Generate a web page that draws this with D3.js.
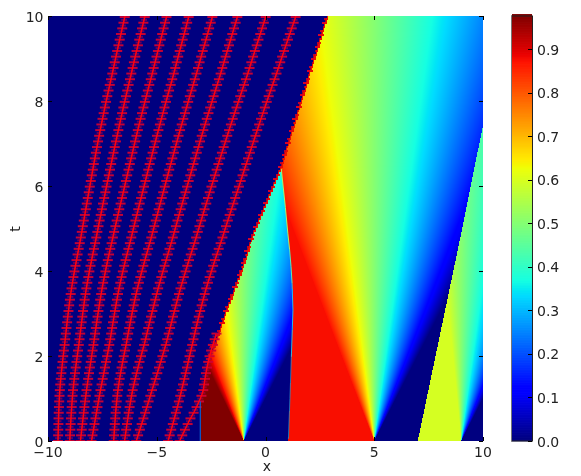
<!DOCTYPE html>
<html><head><meta charset="utf-8">
<script src="https://cdn.jsdelivr.net/npm/d3@7"></script>
<style>
html,body{margin:0;padding:0;background:#fff;width:581px;height:476px;overflow:hidden}
#field{position:absolute;left:48px;top:16px;filter:blur(0.35px)}
svg{position:absolute;left:0;top:0}
text{font-family:"DejaVu Sans",sans-serif;font-size:14px;fill:#222}
</style></head><body>
<canvas id="field" width="435" height="425"></canvas>
<svg id="chart" width="581" height="476"></svg>
<script>
// ---- values ----
const xTicks=[-10,-5,0,5,10];
const tTicks=[0,2,4,6,8,10];
const cbTicks=[0,0.1,0.2,0.3,0.4,0.5,0.6,0.7,0.8,0.9];
const valueMax=0.977;
// soliton trajectories: x position at each sample time
const lineTimes=[0,1.2,2.3,3.55,4.73,6.02,7.32,8.61,10];
const line1=[-9.54,-9.49,-9.23,-8.96,-8.51,-8.07,-7.61,-7.07,-6.46];
const line2=[-9.0,-8.88,-8.57,-8.28,-7.81,-7.30,-6.77,-6.20,-5.54];
const line3=[-8.51,-8.24,-7.9,-7.55,-7.06,-6.46,-5.88,-5.23,-4.54];
const line4=[-8.0,-7.59,-7.16,-6.78,-6.21,-5.57,-4.93,-4.24,-3.52];
const line5=[-6.98,-6.83,-6.4,-5.94,-5.28,-4.62,-3.93,-3.2,-2.43];
const line6=[-6.48,-6.15,-5.56,-4.97,-4.30,-3.59,-2.86,-2.09,-1.28];
const line7=[-5.94,-5.2,-4.56,-3.95,-3.23,-2.47,-1.68,-0.84,0.02];
const line8=[-4.48,-3.82,-3.38,-2.77,-2.03,-1.20,-0.38,0.47,1.40];
const line9Times=[0,0.5,0.93,1.2,1.93,2.55];
const line9=[-3.95,-3.49,-3.0,-2.88,-2.63,-2.24];
// region boundaries
const leftEdgeT=[0,0.93,1.93,2.55,3.14,3.96,4.82,5.67,6.48,7.2,8.61,10];
const leftEdgeX=[-3,-3,-2.63,-2.17,-1.78,-1.17,-0.64,0.05,0.71,1.13,1.97,2.81];
const midEdgeT=[0,1.98,3.08,3.71,4.89,6.48];
const midEdgeX=[1.05,1.2,1.28,1.25,1.05,0.71];
const rightEdgeT=[0,4.82,7.43,10];
const rightEdgeX=[7,8.97,10,11];
const apexT=6.48;
// rarefaction fans: origin, ray slope (x-x0)/t -> value
const fanOrigins=[-1,5,9];
const fanSlopes=[-1,1];
const fanValues=[1,0];
const fanCaps=[0.977,0.875,0.595];
// jet colour stops
const jetR=[[0,0.35,0.66,0.89,1],[0,0,1,1,0.5]];
const jetG=[[0,0.125,0.375,0.64,0.91,1],[0,0,1,1,0,0]];
const jetB=[[0,0.11,0.34,0.65,1],[0.5,1,1,0,0]];

// ---- scales ----
const X0=48,X1=483,Y0=441,Y1=16,CX0=512,CX1=532;
const x=d3.scaleLinear().domain([-10,10]).range([X0,X1]);
const y=d3.scaleLinear().domain([0,10]).range([Y0,Y1]);
const cy=d3.scaleLinear().domain([0,valueMax]).range([Y0,Y1]);
const sr=d3.scaleLinear(...jetR),sg=d3.scaleLinear(...jetG),sb=d3.scaleLinear(...jetB);
const jet=v=>{const n=Math.max(0,Math.min(1,v/valueMax));return [sr(n)*255,sg(n)*255,sb(n)*255];};
const css=c=>`rgb(${c[0]|0},${c[1]|0},${c[2]|0})`;
// a smooth curve through read points: t -> knot index -> spline
const smooth=(ts,xs)=>{
  const u=d3.scaleLinear(ts,ts.map((_,i)=>i/(ts.length-1)));
  const b=d3.interpolateBasis(xs);
  return t=>b(u(t));
};
const leftEdge=d3.scaleLinear(leftEdgeT,leftEdgeX);
const midEdge=smooth(midEdgeT,midEdgeX);
const rightEdge=d3.scaleLinear(rightEdgeT,rightEdgeX);
const ray=d3.scaleLinear(fanSlopes,fanValues).clamp(true);
const fan=(i,xv,t)=>Math.min(fanCaps[i],ray((xv-fanOrigins[i])/Math.max(t,1e-6)));

// ---- field ----
const ctx=document.getElementById('field').getContext('2d');
const W=435,H=425,img=ctx.createImageData(W,H);
const rowH=2;
for(let py=0;py<H;py++){
  const rowPy=Math.floor(py/rowH)*rowH+rowH/2;
  const rowIndex=Math.floor(py/rowH);
  const t=y.invert(Y1+rowPy);
  const xt=y.invert(Y1+py+0.5);
  const bx=x(leftEdge(t))-X0;
  const notch=[0,2,1,3,0,1][rowIndex%6];
  for(let px=0;px<W;px++){
    const xv=x.invert(X0+px+0.5);
    let c;
    if(px<bx){
      c=jet(0);
      if(t>1.9&&px>=bx-notch) c=[140+notch*25,0,40];
    }else{
      let v;
      if(t<apexT&&xv<midEdge(xt)) v=fan(0,xv,xt);
      else if(xv<rightEdge(xt)) v=fan(1,xv,xt);
      else v=fan(2,xv,xt);
      c=jet(v);
      if(t>1.9&&px<bx+1+notch*0.5) c=[235,15,0];
    }
    const k=(py*W+px)*4;
    img.data[k]=c[0];img.data[k+1]=c[1];img.data[k+2]=c[2];img.data[k+3]=255;
  }
}
ctx.putImageData(img,0,0);

// ---- overlay ----
const svg=d3.select('#chart');
const defs=svg.append('defs');
defs.append('clipPath').attr('id','plot').append('rect').attr('x',X0).attr('y',Y1).attr('width',X1-X0).attr('height',Y0-Y1);
defs.append('filter').attr('id','soft').attr('x','-5%').attr('y','-5%').attr('width','110%').attr('height','110%')
  .append('feGaussianBlur').attr('stdDeviation',0.5);
const marks=svg.append('g').attr('clip-path','url(#plot)').append('g').attr('filter','url(#soft)');

const series=[line1,line2,line3,line4,line5,line6,line7,line8].map(v=>({t:lineTimes,x:v}));
series.push({t:line9Times,x:line9});
const rowStep=0.0665;
const rows=d3.range(0,10.01,rowStep);
series.forEach(s=>{
  const f=smooth(s.t,s.x);
  const tMax=s.t[s.t.length-1];
  const g=marks.append('g');
  g.selectAll('rect').data(rows.filter(r=>r<=tMax)).join('rect')
    .attr('x',(r,i)=>x(f(r))-(i%2?3:5))
    .attr('width',(r,i)=>i%2?6:10)
    .attr('y',r=>y(r)-1)
    .attr('height',2)
    .attr('fill',(r,i)=>i%2?'#a00048':'#d00030')
    .attr('opacity',(r,i)=>i%2?0.65:0.95);
  g.append('path')
    .datum(d3.range(0,tMax+0.01,0.1))
    .attr('fill','none').attr('stroke','#ff0010').attr('stroke-width',1.5)
    .attr('d',d3.line().x(r=>x(f(r))).y(r=>y(r)));
});

// thin bright seams along the discontinuities
const seam=(ts,col,op)=>svg.append('path').datum(ts)
  .attr('fill','none').attr('stroke',col).attr('stroke-width',1).attr('opacity',op)
  .attr('d',d3.line().x(t=>x(midEdge(t))).y(t=>y(t)));
seam([0.05,1,1.98],'#3088c0',0.8);
seam([1.98,3.08,3.71],'#30c8e8',0.9);
seam([3.71,4.1,4.5],'#60e8b0',1);
seam([4.5,4.89,5.5,6.4],'#b0f060',1);
svg.append('line').attr('x1',x(-3)).attr('x2',x(-3)).attr('y1',y(0)).attr('y2',y(0.93))
  .attr('stroke','#1070d8').attr('stroke-width',1);

// ticks (inside, all four sides)
const axes=svg.append('g').attr('stroke','#000').attr('stroke-width',1);
xTicks.forEach(v=>{
  const p=Math.round(x(v))+0.5;
  axes.append('line').attr('x1',p).attr('x2',p).attr('y1',Y0).attr('y2',Y0-4);
  axes.append('line').attr('x1',p).attr('x2',p).attr('y1',Y1).attr('y2',Y1+4);
});
tTicks.forEach(v=>{
  const p=Math.round(y(v))+0.5;
  axes.append('line').attr('x1',X0).attr('x2',X0+4).attr('y1',p).attr('y2',p);
  axes.append('line').attr('x1',X1-4).attr('x2',X1).attr('y1',p).attr('y2',p);
});
svg.append('g').selectAll('text').data(xTicks).join('text')
  .attr('x',d=>x(d)).attr('y',457).attr('text-anchor','middle')
  .text(d=>d3.format('d')(d).replace('-','\u2212'));
svg.append('g').selectAll('text').data(tTicks).join('text')
  .attr('x',43.5).attr('y',d=>y(d)+5.5).attr('text-anchor','end').text(d=>d);
svg.append('text').attr('x',267).attr('y',470.5).attr('text-anchor','middle').text('x');
svg.append('text').attr('transform','translate(20,229) rotate(-90)').attr('text-anchor','middle').text('t');

// colour bar
const cbSteps=d3.range(0,256).map(i=>i/255*valueMax);
svg.append('g').selectAll('rect').data(cbSteps).join('rect')
  .attr('x',CX0).attr('width',CX1-CX0)
  .attr('y',d=>cy(d)-(Y0-Y1)/256-0.3).attr('height',(Y0-Y1)/256+0.6)
  .attr('fill',d=>css(jet(d)));
svg.append('rect').attr('x',CX0-0.5).attr('y',Y1).attr('width',CX1-CX0+1).attr('height',Y0-Y1)
  .attr('fill','none').attr('stroke','#222').attr('stroke-width',1);
svg.append('line').attr('x1',CX0-0.5).attr('x2',CX0-0.5).attr('y1',Y1).attr('y2',Y0).attr('stroke','#777');
svg.append('g').selectAll('line').data(cbTicks).join('line')
  .attr('x1',CX1-4).attr('x2',CX1).attr('y1',d=>Math.round(cy(d))+0.5).attr('y2',d=>Math.round(cy(d))+0.5)
  .attr('stroke','#000');
svg.append('g').selectAll('text').data(cbTicks).join('text')
  .attr('x',537).attr('y',d=>cy(d)+5.5).text(d=>d3.format('.1f')(d));
</script>
</body></html>
